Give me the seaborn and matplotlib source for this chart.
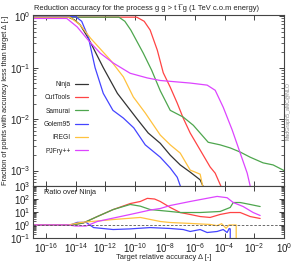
import matplotlib
matplotlib.use('Agg')
import matplotlib.pyplot as plt
import numpy as np
import pandas as pd
import seaborn as sns
from matplotlib.ticker import FixedLocator, LogFormatterSciNotation, LogLocator, NullLocator, NullFormatter

# Curves, stored as log10(x), log10(y)
codes = ['Ninja', 'CutTools', 'Samurai', 'Golem95', 'IREGI', 'PJFry++']
colors = ['#333333', '#ff4444', '#4ea64e', '#4444ff', '#ffc23e', '#dd44ff']

ninja_x = [-16.85, -14.5, -14.1, -13.7, -13.15, -12.15, -11.2, -9.87, -9.13, -8.32, -7.65, -6.98, -6.31, -5.64, -5.3]
ninja_y = [-0.02, -0.02, -0.07, -0.17, -0.43, -1.0, -1.5, -2.0, -2.27, -2.47, -2.70, -2.89, -3.03, -3.18, -3.4]
cuttools_x = [-16.85, -9.9, -9.4, -9.0, -8.52, -8.12, -7.65, -7.18, -6.78, -6.31, -5.64, -4.97, -4.63, -4.1]
cuttools_y = [-0.02, -0.02, -0.1, -0.27, -0.66, -1.1, -1.38, -1.69, -1.98, -2.27, -2.6, -2.93, -3.05, -3.4]
samurai_x = [-16.85, -11.1, -10.7, -10.3, -9.46, -8.9, -8.32, -7.65, -6.78, -6.1, -5.1, -4.3, -3.62, -2.95, -2.28, -1.41, -0.74, 0.0]
samurai_y = [-0.02, -0.02, -0.1, -0.27, -0.72, -1.05, -1.45, -1.83, -1.96, -2.12, -2.45, -2.5, -2.56, -2.64, -2.74, -2.85, -2.89, -3.0]
golem_x = [-16.85, -14.0, -13.6, -13.15, -12.7, -12.15, -11.5, -10.8, -10.1, -9.33, -8.32, -7.65, -7.18, -6.85]
golem_y = [-0.01, -0.01, -0.1, -0.41, -1.0, -1.5, -1.83, -1.98, -2.17, -2.5, -2.74, -2.95, -3.13, -3.4]
iregi_x = [-16.85, -14.4, -13.7, -13.0, -11.68, -10.8, -10.13, -9.33, -8.32, -7.65, -6.98, -6.31, -5.64, -5.4]
iregi_y = [-0.02, -0.02, -0.17, -0.43, -0.85, -1.18, -1.57, -1.88, -2.31, -2.5, -2.66, -2.99, -3.07, -3.4]
pjfry_x = [-16.85, -14.6, -13.9, -13.15, -12.35, -11.48, -10.34, -9.2, -8.32, -6.3, -5.17, -4.63, -4.09, -3.49, -2.95, -2.48, -2.2]
pjfry_y = [-0.045, -0.045, -0.21, -0.47, -0.72, -0.91, -1.11, -1.2, -1.25, -1.30, -1.34, -1.44, -1.77, -2.21, -2.66, -3.05, -3.4]

# Ratio over Ninja, log10
r_cuttools_x = [-16.85, -14.3, -13.5, -12.55, -11.48, -10.34, -9.66, -9.19, -8.7, -8.32, -7.65, -6.98, -6.31, -5.64, -4.97, -4.3, -3.62, -2.95, -2.28, -1.61]
r_cuttools_y = [0, 0, 0.15, 0.65, 1.19, 1.65, 1.81, 2.05, 2.0, 1.81, 1.35, 0.96, 0.81, 0.65, 0.58, 0.81, 0.96, 0.96, 0.65, 0.5]
r_samurai_x = [-16.85, -14.3, -13.5, -12.55, -11.48, -10.34, -9.66, -9.0, -7.65, -6.98, -5.64, -4.3, -3.62, -3.42, -2.95, -2.28, -1.61]
r_samurai_y = [0, 0, 0.15, 0.65, 1.19, 1.58, 1.45, 1.19, 1.04, 0.96, 0.96, 1.04, 1.35, 1.73, 1.73, 1.58, 1.42]
r_golem_x = [-16.85, -14.36, -13.9, -13.3, -12.8, -11.48, -10.34, -9.0, -7.65, -6.78, -6.31, -5.64, -5.17, -4.5, -4.09, -3.83, -3.69, -3.62, -3.62]
r_golem_y = [0, 0, 0.2, 0.2, -0.2, -0.35, -0.3, -0.2, -0.27, -0.35, -0.5, -0.35, -0.58, -0.5, -0.35, -0.58, -0.27, -0.3, -3]
r_iregi_x = [-16.85, -14.5, -13.7, -11.48, -9.66, -8.32, -7.65, -6.31, -4.97, -4.5, -4.2, -3.9, -3.7, -3.22, -3.22]
r_iregi_y = [0, 0, 0.19, 0.42, 0.58, 0.27, 0.19, 0.12, 0.04, -0.05, 0.1, -0.25, 0.0, 0.0, -3]
r_pjfry_x = [-16.85, -14.5, -14.0, -13.3, -12.55, -10.34, -9.0, -8.32, -7.65, -6.31, -4.97, -4.5, -3.83, -3.42, -2.75, -2.08, -1.61]
r_pjfry_y = [0, 0, -0.08, -0.08, 0.27, 0.81, 1.15, 1.27, 1.5, 1.81, 2.1, 2.2, 2.1, 1.73, 1.42, 0.96, 0.73]

upper = [(ninja_x, ninja_y), (cuttools_x, cuttools_y), (samurai_x, samurai_y),
         (golem_x, golem_y), (iregi_x, iregi_y), (pjfry_x, pjfry_y)]
lower = [(r_cuttools_x, r_cuttools_y), (r_samurai_x, r_samurai_y), (r_golem_x, r_golem_y),
         (r_iregi_x, r_iregi_y), (r_pjfry_x, r_pjfry_y)]


def to_frame(series, names):
    parts = []
    for (lx, ly), name in zip(series, names):
        parts.append(pd.DataFrame({'x': 10.0 ** np.array(lx), 'y': 10.0 ** np.array(ly),
                                   'code': name}))
    return pd.concat(parts, ignore_index=True)


df_up = to_frame(upper, codes)
df_low = to_frame(lower, codes[1:])
palette = dict(zip(codes, colors))

sns.set_style('ticks')
plt.rcParams['font.family'] = ['Liberation Sans', 'DejaVu Sans']
plt.rcParams['mathtext.fontset'] = 'dejavusans'

fig = plt.figure(figsize=(2.92, 2.65), dpi=100)
ax1 = fig.add_axes([0.113, 0.298, 0.86, 0.645])
ax2 = fig.add_axes([0.113, 0.102, 0.86, 0.196])

sns.lineplot(data=df_up, x='x', y='y', hue='code', palette=palette, hue_order=codes,
             estimator=None, sort=False, units='code', linewidth=0.9, ax=ax1)
sns.lineplot(data=df_low, x='x', y='y', hue='code', palette=palette, hue_order=codes[1:],
             estimator=None, sort=False, units='code', linewidth=0.9, ax=ax2, legend=False)
ax2.axhline(1.0, color='#555555', lw=0.6, ls=(0, (3, 2)))

xticks = 10.0 ** np.arange(-16, 1, 2)
for ax in (ax1, ax2):
    ax.set_xscale('log')
    ax.set_yscale('log')
    ax.set_xlim(10 ** -16.87, 1.0)
    ax.xaxis.set_major_locator(FixedLocator(xticks))
    ax.xaxis.set_minor_locator(NullLocator())
    ax.yaxis.set_minor_locator(LogLocator(base=10, subs=np.arange(2, 10), numticks=20))
    ax.yaxis.set_minor_formatter(NullFormatter())
    ax.tick_params(which='both', direction='in', top=True, right=True, colors='#222222',
                   labelsize=7, pad=2)
    ax.tick_params(which='major', length=3.5, width=0.6)
    ax.tick_params(which='minor', length=2, width=0.5)
    for s in ax.spines.values():
        s.set_color('#444444')
        s.set_linewidth(0.8)
    ax.set_xlabel('')
    ax.set_ylabel('')

ax1.set_ylim(10 ** -3.3, 10 ** 0.02)
ax1.yaxis.set_major_locator(FixedLocator([1e-3, 1e-2, 1e-1, 1e0]))
ax1.yaxis.set_major_formatter(LogFormatterSciNotation())
ax1.tick_params(axis='x', labelbottom=False)

ax2.set_ylim(0.1, 1000)
ax2.yaxis.set_major_locator(FixedLocator([1e-1, 1e0, 1e1, 1e2, 1e3]))
ax2.yaxis.set_major_formatter(LogFormatterSciNotation())
ax2.xaxis.set_major_formatter(LogFormatterSciNotation())

leg = ax1.legend(loc='upper right', bbox_to_anchor=(0.22, 0.615), frameon=False,
                 markerfirst=False, fontsize=4.8, handlelength=2.0, handletextpad=0.6,
                 labelspacing=0.95, borderpad=0, borderaxespad=0)
for t in leg.get_texts():
    t.set_color('#222222')

ax1.set_title('Reduction accuracy for the process g g > t t\u0305 g (1 TeV c.o.m energy)',
              fontsize=5.4, loc='left', x=0.005, pad=4, color='#222222')
ax2.text(0.045, 0.88, 'Ratio over Ninja', transform=ax2.transAxes, fontsize=5.3,
         va='center', ha='left', color='#222222')
fig.text(0.006, 0.62, 'Fraction of points with accuracy less than target \u0394 [-]',
         rotation=90, fontsize=5.3, va='center', ha='left', color='#222222')
fig.text(0.56, 0.03, 'Target relative accuracy \u0394 [-]', fontsize=5.4,
         ha='center', va='center', color='#222222')
fig.text(0.986, 0.58, 'MadGraph5_aMC@NLO', rotation=90, fontsize=3.8,
         ha='center', va='center', color='#888888')

fig.savefig('out.png', dpi=100)
